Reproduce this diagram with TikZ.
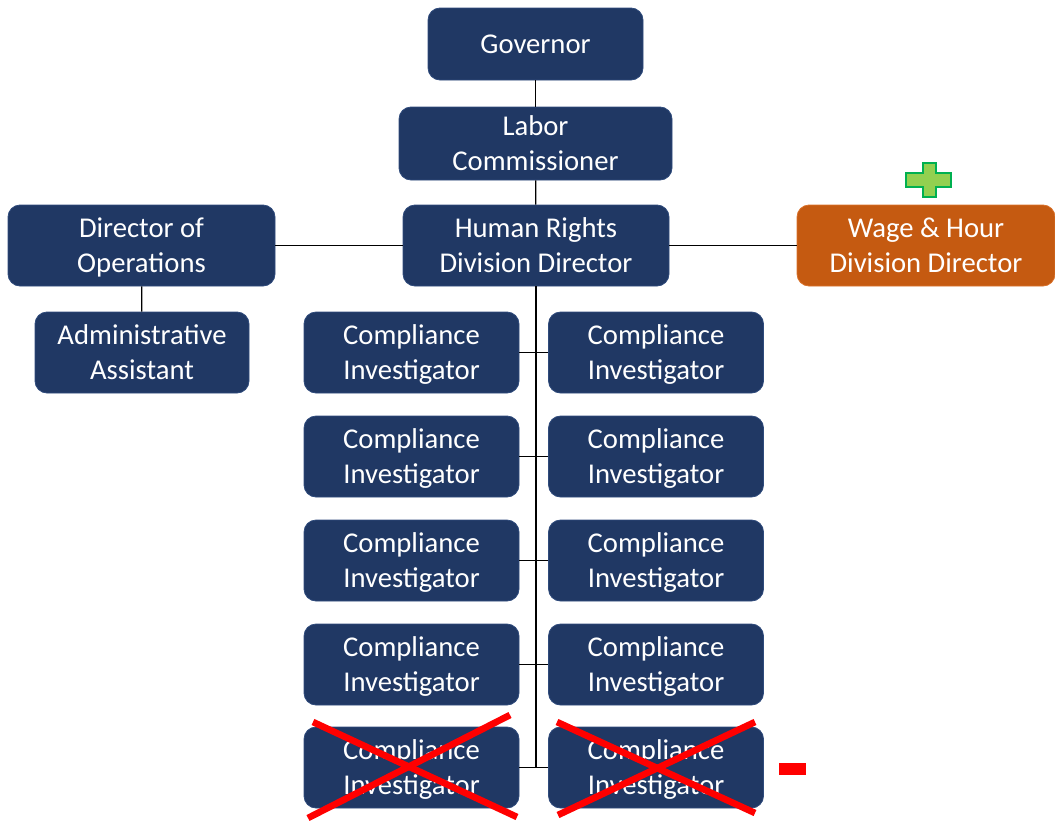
\documentclass[tikz,border=0pt]{standalone}
\usepackage{fontspec}
\setmainfont{Carlito}
\definecolor{navy}{HTML}{203864}
\definecolor{navyedge}{HTML}{2F4B7C}
\definecolor{rust}{HTML}{C55A11}
\definecolor{rustedge}{HTML}{D9712A}
\definecolor{plusfill}{HTML}{92D050}
\definecolor{plusedge}{HTML}{00B050}
\tikzset{
  post/.style={rounded corners=9pt,fill=navy,draw=navyedge,line width=0.6pt,
    text=white,inner sep=0pt,align=center,text depth=0pt,
    font=\fontsize{21.5}{26.25}\selectfont},
  newpost/.style={post,fill=rust,draw=rustedge},
  link/.style={draw=black,line width=0.9pt},
  strike/.style={draw=red,line width=5pt}
}
\begin{document}
\begin{tikzpicture}
    [x=0.75pt,y=-0.75pt]
    \useasboundingbox (0,0) rectangle (1055,821);
    \node (gov) at (535.5, 44) [post,minimum width=161.25pt,minimum height=54pt] {Governor};
    \node (lc) at (535.5, 143.5) [post,minimum width=204.75pt,minimum height=54.75pt] {Labor\\Commissioner};
    \node (hrd) at (536, 245.5) [post,minimum width=199.5pt,minimum height=60.75pt] {Human Rights\\Division Director};
    \node (ops) at (141.5, 245.5) [post,minimum width=200.25pt,minimum height=60.75pt] {Director of\\Operations};
    \node (whd) at (926, 245.5) [newpost,minimum width=193.5pt,minimum height=60.75pt] {Wage \& Hour\\Division Director};
    \node (aa) at (142, 352.5) [post,minimum width=160.5pt,minimum height=60.75pt] {Administrative\\Assistant};
    \foreach \i/\y in {1/352.5,2/456.5,3/560.5,4/664.5,5/767.5} {
      \node (ciL\i) at (411.5, \y) [post,minimum width=161.25pt,minimum height=60.75pt] {Compliance\\Investigator};
      \node (ciR\i) at (656, \y) [post,minimum width=161.25pt,minimum height=60.75pt] {Compliance\\Investigator};
    }
    \coordinate (trunk) at (536, 767.5);
    \draw [link] (gov) to (lc);
    \draw [link] (lc) to (hrd);
    \draw [link] (hrd) to (ops);
    \draw [link] (hrd) to (whd);
    \draw [link] (ops) to (aa);
    \draw [link] (hrd) to (trunk);
    \foreach \i in {1,...,5}
      \draw [link] (ciL\i) to (ciR\i);
    % removed posts
    \draw [strike] (313, 722) -- (517, 817);
    \draw [strike] (510, 715) -- (308, 818);
    \draw [strike] (557, 722) -- (755, 813);
    \draw [strike] (755, 722) -- (558, 815);
    \fill [red] (779, 763) rectangle (806, 775);
    % added post
    \draw [fill=plusfill,draw=plusedge,line width=1.5pt]
      (923,163) -- (936,163) -- (936,173) -- (951,173) -- (951,187) -- (936,187)
      -- (936,197) -- (923,197) -- (923,187) -- (906,187) -- (906,173) -- (923,173) -- cycle;
  \end{tikzpicture}
\end{document}
